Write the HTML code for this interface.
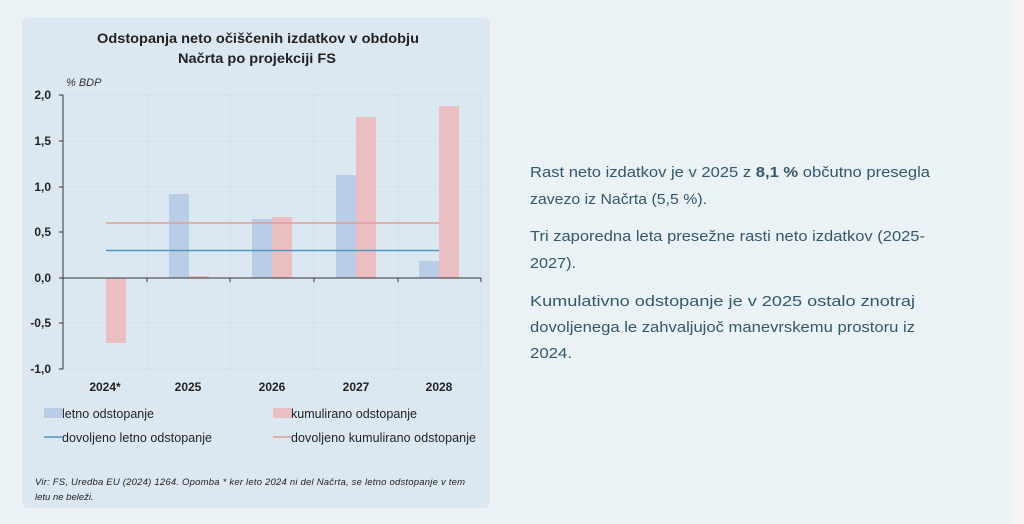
<!DOCTYPE html>
<html><head><meta charset="utf-8"><style>
html,body{margin:0;padding:0;width:1024px;height:524px;overflow:hidden;background:#eaf2f5;}
.strip{position:absolute;left:1012px;top:0;width:12px;height:524px;background:#f4f4f4;}
</style></head><body>
<div class="strip"></div>
<svg width="1024" height="524" style="position:absolute;left:0;top:0" font-family="Liberation Sans, sans-serif">
<rect x="22" y="18" width="468" height="490" rx="6" fill="#dce8f1"/>
<text x="97" y="43" font-size="14" font-weight="bold" fill="#222" textLength="322" lengthAdjust="spacingAndGlyphs">Odstopanja neto očiščenih izdatkov v obdobju</text>
<text x="178" y="63" font-size="14" font-weight="bold" fill="#222" textLength="158" lengthAdjust="spacingAndGlyphs">Načrta po projekciji FS</text>
<text x="66" y="86" font-size="11" font-style="italic" fill="#333">% BDP</text>
<g stroke="#d2dfe9" stroke-width="1">
<line x1="63" y1="95" x2="481" y2="95"/><line x1="63" y1="141" x2="481" y2="141"/><line x1="63" y1="187" x2="481" y2="187"/><line x1="63" y1="232" x2="481" y2="232"/><line x1="63" y1="323" x2="481" y2="323"/><line x1="63" y1="369" x2="481" y2="369"/>
<line x1="147" y1="95" x2="147" y2="369"/><line x1="230" y1="95" x2="230" y2="369"/><line x1="314" y1="95" x2="314" y2="369"/><line x1="398" y1="95" x2="398" y2="369"/><line x1="481" y1="95" x2="481" y2="369"/>
</g>
<g fill="#b9cde6">
<rect x="169" y="194" width="20" height="84"/><rect x="252" y="219" width="20" height="59"/><rect x="336" y="175" width="20" height="103"/><rect x="419" y="261" width="20" height="17"/>
</g>
<g fill="#ebbfc2">
<rect x="106" y="278" width="20" height="65"/><rect x="189" y="276" width="20" height="2"/><rect x="272" y="217" width="20" height="61"/><rect x="356" y="117" width="20" height="161"/><rect x="439" y="106" width="20" height="172"/>
</g>
<line x1="106" y1="223" x2="439" y2="223" stroke="#e39c9c" stroke-width="1.5"/>
<line x1="106" y1="250.5" x2="439" y2="250.5" stroke="#4c98bf" stroke-width="1.5"/>
<g stroke="#333" stroke-width="1">
<line x1="63" y1="95" x2="63" y2="369"/><line x1="63" y1="278" x2="481" y2="278"/>
<line x1="59" y1="95" x2="63" y2="95"/><line x1="59" y1="141" x2="63" y2="141"/><line x1="59" y1="187" x2="63" y2="187"/><line x1="59" y1="232" x2="63" y2="232"/><line x1="59" y1="278" x2="63" y2="278"/><line x1="59" y1="323" x2="63" y2="323"/><line x1="59" y1="369" x2="63" y2="369"/>
<line x1="147" y1="278" x2="147" y2="282"/><line x1="230" y1="278" x2="230" y2="282"/><line x1="314" y1="278" x2="314" y2="282"/><line x1="398" y1="278" x2="398" y2="282"/><line x1="481" y1="278" x2="481" y2="282"/>
</g>
<g font-size="12" font-weight="bold" fill="#222" text-anchor="end">
<text x="51" y="99">2,0</text><text x="51" y="145">1,5</text><text x="51" y="191">1,0</text><text x="51" y="236">0,5</text><text x="51" y="282">0,0</text><text x="51" y="327">-0,5</text><text x="51" y="373">-1,0</text>
</g>
<g font-size="12" font-weight="bold" fill="#222" text-anchor="middle">
<text x="105" y="391">2024*</text><text x="188" y="391">2025</text><text x="272" y="391">2026</text><text x="356" y="391">2027</text><text x="439" y="391">2028</text>
</g>
<rect x="44" y="408" width="18" height="10" fill="#b9cde6"/>
<rect x="273" y="408" width="18" height="10" fill="#ebbfc2"/>
<line x1="44" y1="437" x2="62" y2="437" stroke="#4c98bf" stroke-width="1.5"/>
<line x1="273" y1="437" x2="291" y2="437" stroke="#e39c9c" stroke-width="1.5"/>
<g font-size="12.5" fill="#222">
<text x="62" y="418" textLength="92">letno odstopanje</text>
<text x="291" y="418" textLength="126">kumulirano odstopanje</text>
<text x="62" y="442" textLength="150">dovoljeno letno odstopanje</text>
<text x="291" y="442" textLength="185">dovoljeno kumulirano odstopanje</text>
</g>
<g font-size="9.5" font-style="italic" fill="#222">
<text x="35" y="485" textLength="430">Vir: FS, Uredba EU (2024) 1264. Opomba * ker leto 2024 ni del Načrta, se letno odstopanje v tem</text>
<text x="35" y="500">letu ne beleži.</text>
</g>
<g font-size="15" fill="#33586b" lengthAdjust="spacingAndGlyphs">
<text x="530" y="177" textLength="400" lengthAdjust="spacingAndGlyphs">Rast neto izdatkov je v 2025 z <tspan font-weight="bold">8,1 %</tspan> občutno presegla</text>
<text x="530" y="204" textLength="177" lengthAdjust="spacingAndGlyphs">zavezo iz Načrta (5,5 %).</text>
<text x="530" y="241" textLength="395" lengthAdjust="spacingAndGlyphs">Tri zaporedna leta presežne rasti neto izdatkov (2025-</text>
<text x="530" y="268" textLength="46" lengthAdjust="spacingAndGlyphs">2027).</text>
<text x="530" y="306" textLength="385" lengthAdjust="spacingAndGlyphs">Kumulativno odstopanje je v 2025 ostalo znotraj</text>
<text x="530" y="332" textLength="385" lengthAdjust="spacingAndGlyphs">dovoljenega le zahvaljujoč manevrskemu prostoru iz</text>
<text x="530" y="358" textLength="42" lengthAdjust="spacingAndGlyphs">2024.</text>
</g>
</svg>
</body></html>
